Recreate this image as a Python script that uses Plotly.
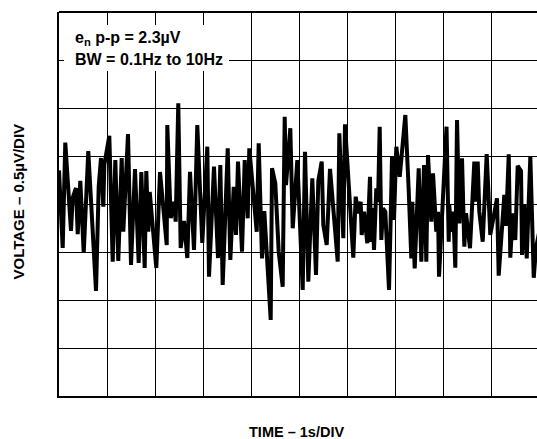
import plotly.graph_objects as go

# Time (s) and noise voltage (µV)
time_s = [0.0, 0.077, 0.131, 0.25, 0.285, 0.354, 0.39, 0.444, 0.515, 0.61,
          0.771, 0.827, 0.875, 0.923, 0.944, 1.048, 1.119, 1.173, 1.235, 1.306,
          1.34, 1.4375, 1.5, 1.583, 1.66, 1.715, 1.785, 1.819, 1.86, 1.89,
          2.027, 2.104, 2.244, 2.256, 2.327, 2.396, 2.431, 2.485, 2.535, 2.604,
          2.673, 2.729, 2.8125, 2.881, 2.985, 3.09, 3.125, 3.229, 3.3125, 3.36,
          3.41, 3.515, 3.569, 3.64, 3.6875, 3.729, 3.8125, 3.869, 3.931, 3.965,
          4.119, 4.16, 4.229, 4.277, 4.41, 4.4375, 4.506, 4.577, 4.66, 4.702,
          4.729, 4.819, 4.869, 4.965, 5.077, 5.125, 5.194, 5.277, 5.354, 5.402,
          5.473, 5.506, 5.577, 5.646, 5.806, 5.84, 5.923, 5.958, 6.131, 6.181,
          6.235, 6.285, 6.306, 6.354, 6.423, 6.479, 6.5, 6.531, 6.5625, 6.61,
          6.646, 6.681, 6.715, 6.75, 6.798, 6.875, 6.91, 6.9375, 6.979, 7.027,
          7.098, 7.215, 7.285, 7.34, 7.36, 7.41, 7.494, 7.548, 7.604, 7.652,
          7.6875, 7.756, 7.792, 7.86, 7.896, 7.917, 8.073, 8.119, 8.131, 8.167,
          8.215, 8.256, 8.292, 8.34, 8.396, 8.444, 8.479, 8.5625, 8.652, 8.6875,
          8.723, 8.756, 8.827, 8.91, 8.985, 9.04, 9.125, 9.16, 9.277, 9.3125,
          9.369, 9.402, 9.452, 9.506, 9.556, 9.625, 9.646, 9.694, 9.744, 9.819,
          9.89, 9.9375, 10.0]
voltage_uv = [0.35, -0.458, 0.639, -0.281, 0.063, 0.167, -0.313, 0.24, -0.51, 0.552,
              -0.906, 0.18, 0.479, -0.028, 0.406, 0.711, -0.601, 0.458, -0.594, 0.479,
              -0.289, 0.729, -0.635, 0.365, -0.615, 0.333, -0.667, 0.344, -0.289, 0.125,
              -0.667, 0.333, -0.427, 0.823, -0.146, 0.024, -0.184, 1.049, -0.458, -0.177,
              -0.563, 0.336, -0.479, 0.823, -0.406, 0.597, -0.757, 0.389, -0.563, 0.406,
              -0.844, 0.58, -0.583, 0.18, -0.323, 0.441, -0.497, 0.458, -0.149, 0.58,
              -0.289, 0.632, -0.566, -0.073, -1.208, 0.372, 0.216, -0.497, -0.861, 0.909,
              0.198, 0.789, -0.253, 0.458, -0.896, 0.545, -0.809, 0.268, -0.74, 0.24,
              0.441, -0.219, -0.427, 0.365, -0.601, 0.736, -0.357, 0.83, -0.559, 0.076,
              -0.097, 0.024, -0.323, -0.08, -0.409, 0.284, -0.396, -0.042, -0.479, 0.164,
              0.021, 0.805, -0.375, -0.045, -0.08, -0.896, -0.149, 0.493, -0.167, 0.597,
              0.284, 0.927, 0.146, -0.566, 0.024, -0.67, 0.372, -0.601, 0.406, -0.601,
              0.51, -0.184, 0.32, -0.289, -0.08, -0.757, 0.805, -0.393, -0.01, -0.289,
              -0.08, -0.664, 0.875, -0.201, 0.476, -0.445, -0.097, -0.461, 0.441, 0.024,
              0.441, -0.08, -0.393, 0.521, -0.323, -0.188, 0.059, -0.747, 0.094, -0.229,
              0.518, -0.559, -0.097, -0.375, 0.399, 0.344, -0.531, -0.01, -0.566, 0.493,
              -0.768, -0.458, -0.3]

x_title = "TIME – 1s/DIV"
y_title = "VOLTAGE – 0.5µV/DIV"
note_line1 = "e<sub>n</sub> p-p = 2.3µV"
note_line2 = "BW = 0.1Hz to 10Hz"

FONT = "Liberation Sans, Arial, Helvetica, sans-serif"

# page pixel -> paper coords (plot area spans page x 59..537, y 12..396)
def px(xp):
    return (xp - 59) / 478

def py(yp):
    return (396 - yp) / 384

fig = go.Figure()
fig.add_trace(go.Scatter(x=time_s, y=voltage_uv, mode="lines",
                         line=dict(color="black", width=4), hoverinfo="skip",
                         showlegend=False))

fig.update_layout(
    width=537, height=439,
    margin=dict(l=59, r=0, t=12, b=43),
    plot_bgcolor="white", paper_bgcolor="white",
    xaxis=dict(range=[0, 9.958], dtick=1, tick0=0, showticklabels=False,
               ticks="", showgrid=True, gridcolor="black", gridwidth=1.3,
               zeroline=False, showline=True, linecolor="black", linewidth=2.2,
               fixedrange=True),
    yaxis=dict(range=[-2, 2], dtick=0.5, tick0=0, showticklabels=False,
               ticks="", showgrid=True, gridcolor="black", gridwidth=1.3,
               zeroline=False, showline=True, linecolor="black", linewidth=2.2,
               fixedrange=True),
    shapes=[
        dict(type="line", xref="paper", yref="paper", x0=0, x1=1, y0=1, y1=1,
             line=dict(color="black", width=2.2), layer="above"),
        dict(type="rect", xref="paper", yref="paper",
             x0=px(64), x1=px(229), y0=py(71), y1=py(25),
             fillcolor="white", line=dict(width=0), layer="above"),
    ],
)

fig.add_annotation(text="<b>" + note_line1 + "</b>", xref="paper", yref="paper",
                   x=px(73), y=py(38), xanchor="left", yanchor="middle",
                   showarrow=False, font=dict(family=FONT, size=16, color="black"))
fig.add_annotation(text="<b>" + note_line2 + "</b>", xref="paper", yref="paper",
                   x=px(73), y=py(59.5), xanchor="left", yanchor="middle",
                   showarrow=False, font=dict(family=FONT, size=16, color="black"))
fig.add_annotation(text="<b>" + x_title + "</b>", xref="paper", yref="paper",
                   x=px(296), y=py(432), xanchor="center", yanchor="middle",
                   showarrow=False, font=dict(family=FONT, size=14.5, color="black"))
fig.add_annotation(text="<b>" + y_title + "</b>", xref="paper", yref="paper",
                   x=px(17.5), y=py(202), xanchor="center", yanchor="middle",
                   textangle=-90, showarrow=False,
                   font=dict(family=FONT, size=15, color="black"))

fig.write_html(
    "out.html",
    config={"displayModeBar": False},
    post_script=("document.documentElement.style.overflow='hidden';"
                 "document.body.style.margin='0';"
                 "document.body.style.overflow='hidden';"),
)
